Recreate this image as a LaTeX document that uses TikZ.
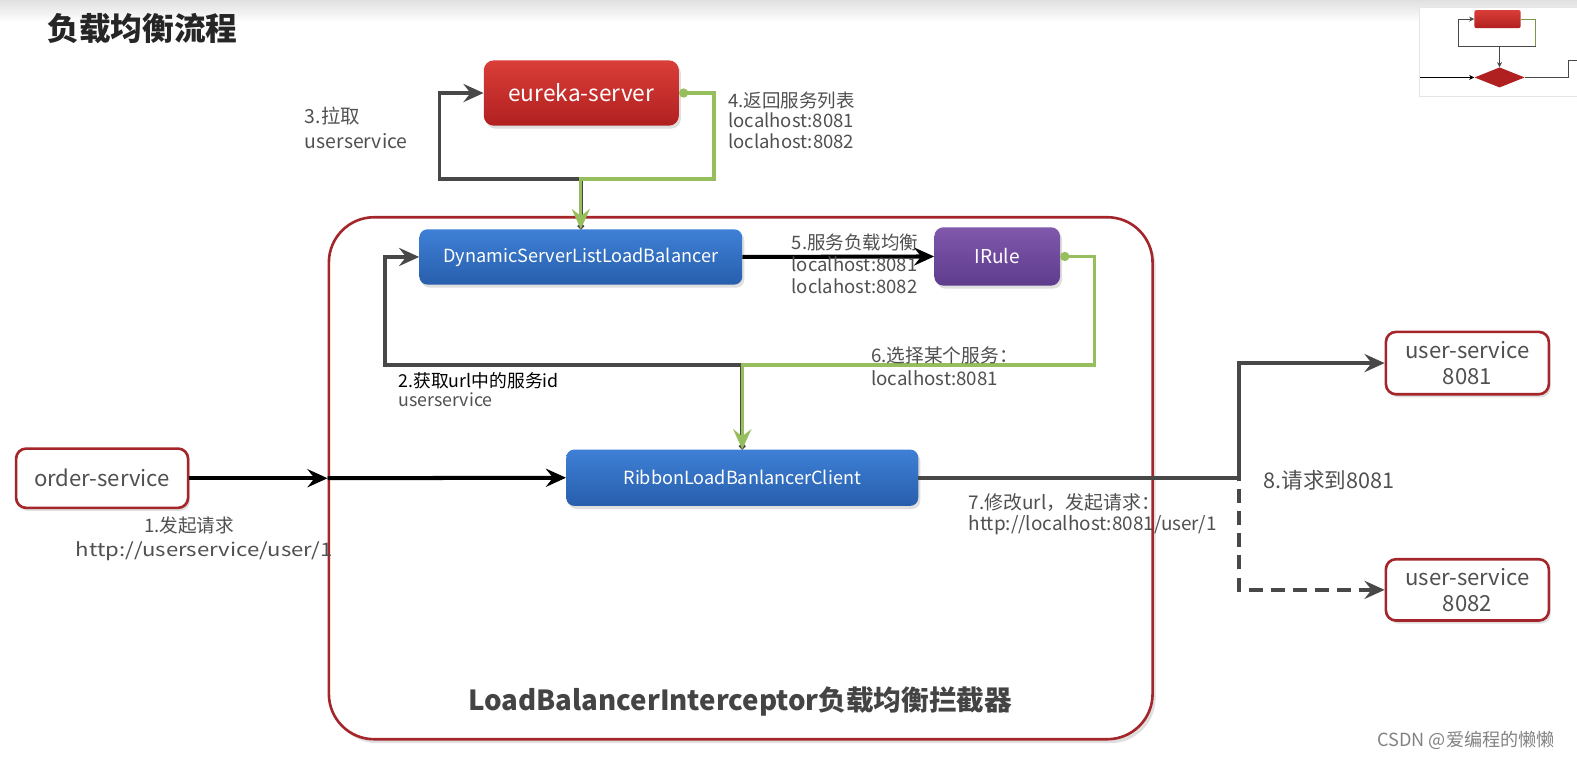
\documentclass[tikz,border=0pt]{standalone}
\usepackage{fontspec}
\setmainfont{Noto Sans CJK SC}
\usetikzlibrary{arrows.meta,shadows,calc,shapes.geometric}
\definecolor{bred}{RGB}{164,38,42}
\definecolor{eutop}{RGB}{218,62,56}
\definecolor{eubot}{RGB}{176,32,32}
\definecolor{bltop}{RGB}{62,128,214}
\definecolor{blbot}{RGB}{40,94,172}
\definecolor{pptop}{RGB}{128,88,172}
\definecolor{ppbot}{RGB}{94,60,140}
\definecolor{lgreen}{RGB}{150,190,92}
\definecolor{dline}{RGB}{72,72,72}
\definecolor{txt}{RGB}{80,80,80}
\definecolor{txtdark}{RGB}{68,68,68}
\definecolor{wm}{RGB}{130,130,130}
\begin{document}
\begin{tikzpicture}[x=1pt,y=-1pt,
  tip/.style={-{Stealth[length=20pt,width=18pt,inset=7pt]}},
  smalltip/.style={-{Stealth[length=5pt,width=5pt,inset=1.5pt]}},
  dk/.style={draw=dline,line width=3.6pt},
  gr/.style={draw=lgreen,line width=3.2pt},
  shadowed/.style={drop shadow={opacity=0.25,shadow xshift=2pt,shadow yshift=-3pt}},
  redbox/.style={draw=bred,line width=2.6pt,fill=white,rounded corners=10pt,text=txt,inner sep=0pt,align=center,shadowed},
  bluebox/.style={top color=bltop,bottom color=blbot,rounded corners=8pt,text=white,inner sep=0pt,shadowed},
  lbl/.style={anchor=north west,align=left,text=txt,inner sep=0pt},
]
\useasboundingbox (0,0) rectangle (1568,754);
% top fade of the screenshot
\shade[top color=black!12,bottom color=white,draw=none] (0,0) rectangle (1568,22);

% title
\node[anchor=west,font=\fontsize{31.5}{31.5}\selectfont\bfseries,text=black!85,inner sep=0pt] (title) at (47,28) {负载均衡流程};

% thumbnail in the corner
\node[draw=black!10,fill=white,minimum width=160pt,minimum height=88pt,inner sep=0pt,anchor=north west,drop shadow={opacity=0.15,shadow xshift=1pt,shadow yshift=-1pt}] (thumb) at (1411,7) {};
\node[top color=eutop,bottom color=eubot,rounded corners=2pt,minimum width=46pt,minimum height=18pt,inner sep=0pt] (teu) at (1489,19) {};
\node[diamond,fill=eubot,minimum width=50pt,minimum height=20pt,inner sep=0pt] (tdia) at (1491,77) {};
\coordinate (tl1) at (1450,46);
\coordinate (tl2) at (1527,46);
\coordinate (tin) at (1412,77);
\coordinate (tr1) at (1560,60);
\coordinate (tr2) at (1568,60);
\draw[dline,line width=1pt,smalltip] (tl2) -- (tl1) |- (teu.west);
\draw[lgreen!80!black,line width=1pt] (teu.east) -| (tl2);
\draw[dline,line width=1pt,smalltip] (tdia.north |- tl2) -- (tdia.north);
\draw[black,line width=1pt,smalltip] (tin) -- (tdia.west);
\draw[dline,line width=1pt] (tdia.east) -| (tr1) -- (tr2);

% container
\node[draw=bred,line width=2.6pt,fill=white,rounded corners=45pt,minimum width=819pt,minimum height=519pt,inner sep=0pt,drop shadow={opacity=0.25,shadow xshift=3pt,shadow yshift=-4pt}] (lbi) at (736.5,475.5) {};
\node[font=\fontsize{27.5}{27.5}\selectfont\bfseries,text=txtdark,inner sep=0pt] (lbilabel) at (736,698) {LoadBalancerInterceptor负载均衡拦截器};

% nodes
\node[top color=eutop,bottom color=eubot,rounded corners=10pt,text=white,inner sep=0pt,shadowed,minimum width=194pt,minimum height=65pt,font=\fontsize{22.5}{22.5}\selectfont] (eureka) at (578,92.5) {eureka-server};
\node[bluebox,minimum width=321pt,minimum height=55pt,font=\fontsize{18}{18}\selectfont] (dsl) at (577.5,255.5) {DynamicServerListLoadBalancer};
\node[top color=pptop,bottom color=ppbot,rounded corners=9pt,text=white,inner sep=0pt,shadowed,minimum width=125pt,minimum height=58pt,font=\fontsize{19}{19}\selectfont] (irule) at (991.5,255) {IRule};
\node[bluebox,minimum width=350pt,minimum height=56pt,font=\fontsize{18}{18}\selectfont] (ribbon) at (738,475) {RibbonLoadBanlancerClient};
\node[redbox,minimum width=171pt,minimum height=59pt,font=\fontsize{22}{22}\selectfont] (order) at (101.5,475.5) {order-service};
\node[redbox,minimum width=162pt,minimum height=62pt,font=\fontsize{22}{26}\selectfont] (us1) at (1459,361) {user-service\\8081};
\node[redbox,minimum width=162pt,minimum height=61pt,font=\fontsize{22}{26}\selectfont] (us2) at (1459,586.5) {user-service\\8082};

% bend points
\coordinate (j3) at (437,178);
\coordinate (j4) at (710,178);
\coordinate (j2) at (383,363);
\coordinate (j6) at (1088,363);
\coordinate (j8) at (1232,475);

% 3. pull from eureka
\draw[dk,{Circle[length=6pt]}-{Stealth[length=20pt,width=18pt,inset=7pt]}] (dsl.north) |- (j3) |- (eureka.west);
% 4. return list
\draw[gr,{Circle[length=9pt]}-{Stealth[length=20pt,width=18pt,inset=7pt]}] (eureka.east) -| (j4) -| (dsl.north);
% 2. get service id
\draw[dk,{Circle[length=6pt]}-{Stealth[length=20pt,width=18pt,inset=7pt]}] (ribbon.north) |- (j2) |- (dsl.west);
% 6. choose server
\draw[gr,{Circle[length=9pt]}-{Stealth[length=20pt,width=18pt,inset=7pt]}] (irule.east) -| (j6) -| (ribbon.north);
% 5. load balance
\draw[black,line width=4pt,tip] (dsl.east) -- (irule.west);
% 1. request
\draw[black,line width=4pt,tip] (order.east) -- (order.east -| lbi.west);
\draw[black,line width=4pt,tip] (order.east -| lbi.west) -- (ribbon.west);
% 7/8. forward
\draw[dk,dashed,dash pattern=on 14pt off 8pt,tip] (ribbon.east) -- (j8) |- (us2.west);
\draw[dk,tip] (ribbon.east) -- (j8) |- (us1.west);

% labels
\node[lbl,font=\fontsize{19.3}{25}\selectfont] (l3) at (303,106) {3.拉取\\userservice};
\node[lbl,font=\fontsize{18.4}{20.5}\selectfont] (l4) at (724,91) {4.返回服务列表\\localhost:8081\\loclahost:8082};
\node[lbl,font=\fontsize{18.4}{22}\selectfont] (l5) at (787,232) {5.服务负载均衡\\localhost:8081\\loclahost:8082};
\node[lbl,font=\fontsize{17.7}{19.5}\selectfont] (l2) at (396,370) {\textcolor{black}{2.获取url中的服务id}\\userservice};
\node[lbl,font=\fontsize{18.6}{22}\selectfont] (l6) at (866,345) {6.选择某个服务：\\localhost:8081};
\node[anchor=north,align=center,text=txt,inner sep=0pt,font=\fontsize{18.5}{24}\selectfont] (l1) at (203,514) {\hspace*{-30pt}1.发起请求\\\scalebox{1.19}[1]{http://userservice/user/1}};
\node[lbl,font=\fontsize{18.8}{20.5}\selectfont] (l7) at (963,491) {7.修改url，发起请求：\\http://localhost:8081/user/1};
\node[lbl,font=\fontsize{21.5}{21.5}\selectfont] (l8) at (1256,467) {8.请求到8081};

% watermark
\node[anchor=east,text=wm,inner sep=0pt,font=\fontsize{18}{18}\selectfont] (wmk) at (1546,736) {CSDN @爱编程的懒懒};
\end{tikzpicture}
\end{document}
